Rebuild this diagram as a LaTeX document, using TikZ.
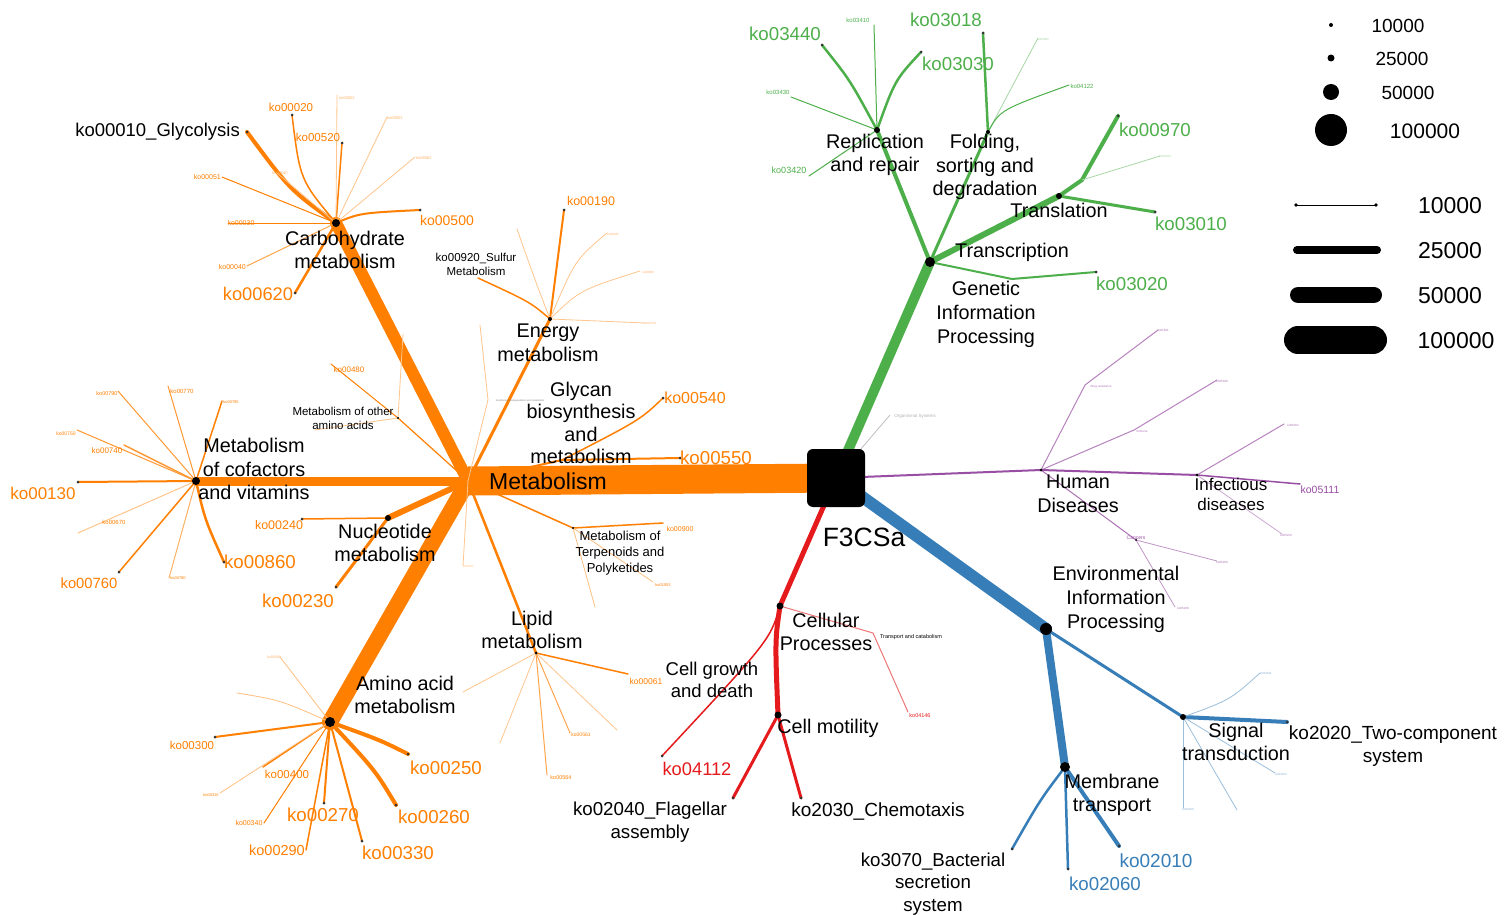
\documentclass[tikz,border=0pt]{standalone}
\usepackage{fontspec}
\setmainfont{Liberation Sans}
\definecolor{cOr}{RGB}{255,127,0}
\definecolor{cGr}{RGB}{77,175,74}
\definecolor{cBl}{RGB}{55,126,184}
\definecolor{cRd}{RGB}{228,26,28}
\definecolor{cPu}{RGB}{152,78,163}
\newcommand{\fs}[1]{\fontsize{#1}{#1}\selectfont}
\tikzset{
  edge/.style={line cap=round,line join=round},
  hubl/.style={font=\fontsize{19.8}{23.5}\selectfont,align=center,inner sep=0pt,text=black},
  blk/.style={align=center,inner sep=0pt,text=black},
  kl/.style={inner sep=0pt},
  hubdot/.style={fill=black},
}
\begin{document}
\begin{tikzpicture}[x=1pt,y=-1pt]
\useasboundingbox[fill=white] (0,0) rectangle (1510,915);
% ---------- coordinates ----------
\coordinate (rootc) at (836,478);
\coordinate (met) at (468,481);
\coordinate (carb) at (336,223);
\coordinate (cof) at (196,481);
\coordinate (nuc) at (388,518);
\coordinate (amino) at (330,722);
\coordinate (energy) at (550,319);
\coordinate (glyc) at (562,460);
\coordinate (oam) at (398,418);
\coordinate (terp) at (573,528);
\coordinate (lipid) at (536,653);
\coordinate (xeno) at (488,400);
\coordinate (xenoend) at (480,325);
\coordinate (mf1) at (463,566);
\coordinate (mf1e) at (473,566);
% carbohydrate leaves
\coordinate (gly) at (247,132);
\coordinate (k20) at (292,115);
\coordinate (k520) at (342,143);
\coordinate (cf1) at (337,95);
\coordinate (cf2) at (387,117);
\coordinate (cf3) at (415,157);
\coordinate (k51) at (222,177);
\coordinate (cf4) at (277,173);
\coordinate (k30) at (228,223);
\coordinate (k40) at (247,266);
\coordinate (k620) at (295,293);
\coordinate (k500) at (420,210);
% cofactor leaves
\coordinate (k130) at (78,482);
\coordinate (k790) at (118,391);
\coordinate (k770) at (168,386);
\coordinate (k785) at (222,401);
\coordinate (k750) at (77,430);
\coordinate (k740) at (124,445);
\coordinate (k670) at (78,533);
\coordinate (k760) at (119,572);
\coordinate (k780) at (169,578);
\coordinate (k860) at (224,562);
% nucleotide
\coordinate (k240) at (302,519);
\coordinate (k230) at (336,587);
% other amino
\coordinate (k480) at (331,364);
\coordinate (oup) at (403,334);
\coordinate (oleft) at (315,430);
% amino
\coordinate (af1) at (280,657);
\coordinate (af2) at (237,693);
\coordinate (k300) at (215,737);
\coordinate (k400) at (263,767);
\coordinate (k310) at (220,793);
\coordinate (k340) at (264,823);
\coordinate (k290) at (306,850);
\coordinate (k270) at (324,803);
\coordinate (k330) at (362,841);
\coordinate (k260) at (396,805);
\coordinate (k250) at (408,754);
% energy
\coordinate (k190) at (564,210);
\coordinate (sulf) at (478,278);
\coordinate (ef1) at (517,229);
\coordinate (ef2) at (607,233);
\coordinate (ef3) at (640,271);
\coordinate (ef4) at (645,323);
% glycan
\coordinate (k540) at (663,398);
\coordinate (k550) at (680,458);
% terpenoids
\coordinate (k900) at (663,523);
\coordinate (k1053) at (653,582);
\coordinate (tf) at (595,607);
% lipid
\coordinate (k061) at (628,674);
\coordinate (lf1) at (617,730);
\coordinate (k561) at (570,733);
\coordinate (k564) at (547,775);
\coordinate (lf2) at (500,743);
\coordinate (lf3) at (463,692);
% green
\coordinate (gip) at (930,262);
\coordinate (rep) at (877,130);
\coordinate (k3440) at (822,45);
\coordinate (k3410) at (874,25);
\coordinate (k3030) at (921,52);
\coordinate (k3430) at (791,97);
\coordinate (k3420) at (809,176);
\coordinate (fold) at (988,132);
\coordinate (k3018) at (983,33);
\coordinate (ff) at (1038,38);
\coordinate (k4122) at (1069,85);
\coordinate (trans) at (1059,196);
\coordinate (tbend) at (1082,180);
\coordinate (k970) at (1118,116);
\coordinate (tf2) at (1160,156);
\coordinate (k3010) at (1155,212);
\coordinate (trsc) at (1012,279);
\coordinate (k3020) at (1096,272);
\coordinate (orgs) at (890,415);
% purple
\coordinate (hd) at (1041,470);
\coordinate (hdm1) at (1085,385);
\coordinate (hde1) at (1158,330);
\coordinate (hdm2) at (1134,430);
\coordinate (hde2) at (1217,380);
\coordinate (inf) at (1197,475);
\coordinate (k5111) at (1300,484);
\coordinate (ie1) at (1284,424);
\coordinate (ie2) at (1282,534);
\coordinate (canc) at (1136,540);
\coordinate (ce1) at (1217,561);
\coordinate (ce2) at (1175,607);
% blue
\coordinate (eip) at (1046,629);
\coordinate (mem) at (1065,767);
\coordinate (k3070) at (1012,849);
\coordinate (k2060) at (1068,869);
\coordinate (k2010) at (1119,846);
\coordinate (sig) at (1183,717);
\coordinate (k2020) at (1287,722);
\coordinate (sf1) at (1260,673);
\coordinate (sf2) at (1275,773);
\coordinate (sf3) at (1237,810);
\coordinate (sf4) at (1183,808);
% red
\coordinate (cp) at (780,606);
\coordinate (cm) at (778,715);
\coordinate (k2040) at (733,798);
\coordinate (k2030) at (801,798);
\coordinate (k4112) at (662,756);
\coordinate (tc) at (873,633);
\coordinate (k4146) at (908,712);

% ---------- orange edges ----------
\begin{scope}[edge,cOr]
\draw[line width=29pt,line cap=butt] (met) -- (rootc);
\draw[line width=12pt] (met) -- (carb);
\draw[line width=9pt] (met) -- (cof);
\draw[line width=6pt] (met) -- (nuc);
\draw[line width=16pt] (met) -- (amino);
\draw[line width=3pt] (met) -- (energy);
\draw[line width=2pt] (met) -- (glyc);
\draw[line width=1.2pt] (met) -- (oam);
\draw[line width=1.5pt] (met) -- (terp);
\draw[line width=2.5pt] (met) -- (lipid);
\draw[line width=0.8pt,cOr!45] (met) -- (xeno) -- (xenoend);
\draw[line width=0.8pt,cOr!45] (met) -- (mf1) -- (mf1e);
% carbohydrate
\draw[line width=4pt] (carb) .. controls (290,190) .. (gly);
\draw[line width=1.5pt] (carb) .. controls (300,180) .. (k20);
\draw[line width=1.5pt] (carb) -- (k520);
\draw[line width=0.8pt,cOr!45] (carb) -- (cf1);
\draw[line width=0.8pt,cOr!45] (carb) -- (cf2);
\draw[line width=0.8pt,cOr!45] (carb) -- (cf3);
\draw[line width=1pt] (carb) -- (k51);
\draw[line width=0.8pt,cOr!45] (carb) -- (cf4);
\draw[line width=1pt] (carb) -- (k30);
\draw[line width=1pt,cOr!70] (carb) -- (k40);
\draw[line width=2.5pt] (carb) -- (k620);
\draw[line width=2pt] (carb) .. controls (360,213) .. (k500);
% cofactors
\draw[line width=2pt] (cof) -- (k130);
\draw[line width=1pt,cOr!80] (cof) -- (k790);
\draw[line width=1pt,cOr!80] (cof) -- (k770);
\draw[line width=1.5pt] (cof) -- (k785);
\draw[line width=1pt,cOr!80] (cof) -- (k750);
\draw[line width=1.5pt,cOr!80] (cof) -- (k740);
\draw[line width=1pt,cOr!45] (cof) -- (k670);
\draw[line width=1.5pt] (cof) -- (k760);
\draw[line width=1pt,cOr!60] (cof) -- (k780);
\draw[line width=2.5pt] (cof) .. controls (205,520) .. (k860);
% nucleotide
\draw[line width=1.5pt] (nuc) -- (k240);
\draw[line width=3pt] (nuc) -- (k230);
% other amino acids
\draw[line width=1pt] (oam) -- (k480);
\draw[line width=0.8pt,cOr!45] (oam) -- (oup);
\draw[line width=0.8pt,cOr!45] (oam) -- (oleft);
% amino acid
\draw[line width=0.8pt,cOr!50] (amino) -- (af1);
\draw[line width=0.8pt,cOr!50] (amino) .. controls (280,700) .. (af2);
\draw[line width=2pt] (amino) -- (k300);
\draw[line width=1.5pt] (amino) -- (k400);
\draw[line width=0.8pt,cOr!50] (amino) -- (k310);
\draw[line width=1pt] (amino) -- (k340);
\draw[line width=1.5pt] (amino) -- (k290);
\draw[line width=2pt] (amino) -- (k270);
\draw[line width=2pt] (amino) -- (k330);
\draw[line width=4pt] (amino) .. controls (375,770) .. (k260);
\draw[line width=4pt] (amino) .. controls (380,740) .. (k250);
% energy
\draw[line width=2pt] (energy) -- (k190);
\draw[line width=1.5pt] (energy) .. controls (530,302) .. (sulf);
\draw[line width=0.8pt,cOr!45] (energy) .. controls (535,280) .. (ef1);
\draw[line width=0.8pt,cOr!45] (energy) .. controls (575,260) .. (ef2);
\draw[line width=0.8pt,cOr!45] (energy) .. controls (580,290) .. (ef3);
\draw[line width=0.8pt,cOr!45] (energy) -- (ef4);
% glycan
\draw[line width=1.5pt] (glyc) .. controls (640,420) .. (k540);
\draw[line width=2pt] (glyc) -- (k550);
% terpenoids
\draw[line width=1.5pt] (terp) -- (k900);
\draw[line width=0.8pt,cOr!50] (terp) -- (k1053);
\draw[line width=0.8pt,cOr!50] (terp) -- (tf);
% lipid
\draw[line width=1.5pt] (lipid) -- (k061);
\draw[line width=0.8pt,cOr!45] (lipid) -- (lf1);
\draw[line width=1pt,cOr!70] (lipid) -- (k561);
\draw[line width=1pt,cOr!70] (lipid) -- (k564);
\draw[line width=0.8pt,cOr!45] (lipid) -- (lf2);
\draw[line width=0.8pt,cOr!45] (lipid) -- (lf3);
\end{scope}

% ---------- green edges ----------
\begin{scope}[edge,cGr]
\draw[line width=10pt] (rootc) -- (gip);
\draw[line width=4pt] (gip) -- (rep);
\draw[line width=2.5pt] (rep) .. controls (850,80) .. (k3440);
\draw[line width=1pt] (rep) -- (k3410);
\draw[line width=2.5pt] (rep) .. controls (895,80) .. (k3030);
\draw[line width=1pt] (rep) -- (k3430);
\draw[line width=1pt] (rep) -- (k3420);
\draw[line width=3pt] (gip) -- (fold);
\draw[line width=2.5pt] (fold) -- (k3018);
\draw[line width=0.8pt,cGr!50] (fold) .. controls (1005,100) .. (ff);
\draw[line width=1pt] (fold) .. controls (1000,110) .. (k4122);
\draw[line width=6pt] (gip) -- (trans);
\draw[line width=4pt] (trans) -- (tbend) -- (k970);
\draw[line width=0.8pt,cGr!50] (tbend) -- (tf2);
\draw[line width=3pt] (trans) -- (k3010);
\draw[line width=2pt] (gip) -- (trsc) -- (k3020);
\draw[line width=0.8pt,black!25] (rootc) -- (orgs);
\end{scope}

% ---------- purple edges ----------
\begin{scope}[edge,cPu]
\draw[line width=2pt] (rootc) -- (hd);
\draw[line width=1pt,cPu!70] (hd) -- (hdm1) -- (hde1);
\draw[line width=1pt,cPu!70] (hd) -- (hdm2) -- (hde2);
\draw[line width=2pt] (hd) -- (inf);
\draw[line width=1.5pt] (inf) -- (k5111);
\draw[line width=1pt,cPu!70] (inf) -- (ie1);
\draw[line width=0.8pt,cPu!50] (inf) -- (ie2);
\draw[line width=1pt,cPu!80] (hd) -- (canc);
\draw[line width=0.8pt,cPu!60] (canc) -- (ce1);
\draw[line width=0.8pt,cPu!60] (canc) -- (ce2);
\end{scope}

% ---------- blue edges ----------
\begin{scope}[edge,cBl]
\draw[line width=12pt] (rootc) -- (eip);
\draw[line width=8pt] (eip) -- (mem);
\draw[line width=2.5pt] (mem) .. controls (1040,800) .. (k3070);
\draw[line width=2.5pt] (mem) -- (k2060);
\draw[line width=4pt] (mem) -- (k2010);
\draw[line width=3pt] (eip) -- (sig);
\draw[line width=4pt] (sig) -- (k2020);
\draw[line width=0.8pt,cBl!50] (sig) .. controls (1230,700) .. (sf1);
\draw[line width=0.8pt,cBl!50] (sig) -- (sf2);
\draw[line width=0.8pt,cBl!50] (sig) -- (sf3);
\draw[line width=0.8pt,cBl!50] (sig) -- (sf4);
\end{scope}

% ---------- red edges ----------
\begin{scope}[edge,cRd]
\draw[line width=5pt] (rootc) -- (cp);
\draw[line width=5pt] (cp) .. controls (775,640) .. (cm);
\draw[line width=3pt] (cm) -- (k2040);
\draw[line width=3pt] (cm) -- (k2030);
\draw[line width=1.5pt] (cp) .. controls (770,640) .. (k4112);
\draw[line width=1pt,cRd!60] (cp) -- (tc) -- (k4146);
\end{scope}

% ---------- hub dots ----------
\foreach \p/\r in {carb/4,cof/4,nuc/3,amino/5,energy/2,oam/1.2,terp/1.2,lipid/1.5,
  gip/5,rep/3,fold/2,trans/3,hd/1.5,inf/1.5,canc/1,eip/6,mem/5,sig/3,cp/3.5,cm/3.5}
  \fill (\p) circle (\r pt);
\foreach \p in {gly,k20,k520,k500,k620,k130,k760,k860,k240,k230,k300,k250,k260,k270,k330,
  k190,k540,k550,k3440,k3030,k3018,k970,k3010,k3020,k3070,k2060,k2010,k2020,k2040,k2030,k4112}
  \fill[black!80] (\p) circle (1.5pt);

% ---------- root ----------
\node[fill=black,rounded corners=6pt,minimum size=58pt,inner sep=0pt] (root) at (rootc) {};
\node[kl,font=\fs{26.5}] (rootl) at (864,537) {F3CSa};
\node[kl,font=\fs{23}] (metl) at (548,481) {Metabolism};

% ---------- hub labels ----------
\node[hubl] (carbl) at (345,250) {Carbohydrate\\metabolism};
\node[hubl] (cofl) at (254,469) {Metabolism\\of cofactors\\and vitamins};
\node[hubl] (nucl) at (385,543) {Nucleotide\\metabolism};
\node[hubl] (aminol) at (405,695) {Amino acid\\metabolism};
\node[hubl] (energyl) at (548,343) {Energy\\metabolism};
\node[hubl,font=\fontsize{19.8}{22.5}\selectfont] (glycl) at (581,423) {Glycan\\biosynthesis\\and\\metabolism};
\node[blk,font=\fontsize{11.5}{14}\selectfont] (oaml) at (343,418) {Metabolism of other\\amino acids};
\node[blk,font=\fontsize{13}{16}\selectfont] (terpl) at (620,553) {Metabolism of\\Terpenoids and\\Polyketides};
\node[hubl] (lipidl) at (532,630) {Lipid\\metabolism};
\node[hubl,font=\fontsize{19.8}{24}\selectfont] (gipl) at (986,314) {Genetic\\Information\\Processing};
\node[hubl] (repl) at (875,155) {Replication\\and repair};
\node[hubl] (foldl) at (985,167) {Folding,\\sorting and\\degradation};
\node[hubl] (transl) at (1059,210) {Translation};
\node[hubl] (trscl) at (1012,252) {Transcription};
\node[hubl] (hdl) at (1078,494) {Human\\Diseases};
\node[hubl,font=\fontsize{17}{20}\selectfont] (infl) at (1231,494) {Infectious\\diseases};
\node[hubl,font=\fontsize{19.8}{24}\selectfont] (eipl) at (1116,599) {Environmental\\Information\\Processing};
\node[hubl] (meml) at (1112,795) {Membrane\\transport};
\node[hubl] (sigl) at (1236,742) {Signal\\transduction};
\node[hubl] (cpl) at (826,632) {Cellular\\Processes};
\node[hubl] (cml) at (828,728) {Cell motility};
\node[hubl,font=\fontsize{18.5}{22}\selectfont] (cgl) at (712,680) {Cell growth\\and death};

% ---------- leaf labels: orange ----------
\begin{scope}[every node/.style={kl,text=cOr}]
\node[text=black,font=\fs{18.5},anchor=east] (glyl) at (240,132) {ko00010\_Glycolysis};
\node[font=\fs{11.5}] (k20l) at (291,107) {ko00020};
\node[font=\fs{11.5}] (k520l) at (318,137) {ko00520};
\node[font=\fs{4},text=cOr!60] (cf1l) at (347,98) {ko00052};
\node[font=\fs{4},text=cOr!60] (cf2l) at (395,118) {ko00053};
\node[font=\fs{4},text=cOr!60] (cf3l) at (424,158) {ko00562};
\node[font=\fs{7},anchor=east] (k51l) at (221,177) {ko00051};
\node[font=\fs{4},text=cOr!60] (cf4l) at (280,173) {ko00640};
\node[font=\fs{7}] (k30l) at (241,223) {ko00030};
\node[font=\fs{7},anchor=east] (k40l) at (246,267) {ko00040};
\node[font=\fs{18.3}] (k620l) at (258,294) {ko00620};
\node[font=\fs{14}] (k500l) at (447,220) {ko00500};
\node[font=\fs{17}] (k130l) at (43,493) {ko00130};
\node[font=\fs{5.5}] (k790l) at (107,394) {ko00790};
\node[font=\fs{6}] (k770l) at (182,391) {ko00770};
\node[font=\fs{4}] (k785l) at (231,402) {ko00785};
\node[font=\fs{5}] (k750l) at (66,434) {ko00750};
\node[font=\fs{8}] (k740l) at (107,451) {ko00740};
\node[font=\fs{6}] (k670l) at (114,522) {ko00670};
\node[font=\fs{14.8}] (k760l) at (89,583) {ko00760};
\node[font=\fs{4}] (k780l) at (178,578) {ko00780};
\node[font=\fs{18.7}] (k860l) at (260,562) {ko00860};
\node[font=\fs{12.5}] (k240l) at (279,525) {ko00240};
\node[font=\fs{18.7}] (k230l) at (298,601) {ko00230};
\node[font=\fs{8}] (k480l) at (349,370) {ko00480};
\node[font=\fs{3.5},text=cOr!60] (af1l) at (274,657) {ko00380};
\node[font=\fs{11.5}] (k300l) at (192,745) {ko00300};
\node[font=\fs{11.5}] (k400l) at (287,774) {ko00400};
\node[font=\fs{4}] (k310l) at (211,795) {ko00310};
\node[font=\fs{7}] (k340l) at (249,823) {ko00340};
\node[font=\fs{14.5}] (k290l) at (277,850) {ko00290};
\node[font=\fs{18.7}] (k270l) at (323,815) {ko00270};
\node[font=\fs{18.7}] (k330l) at (398,853) {ko00330};
\node[font=\fs{18.7}] (k260l) at (434,817) {ko00260};
\node[font=\fs{18.7}] (k250l) at (446,768) {ko00250};
\node[font=\fs{12.5}] (k190l) at (591,201) {ko00190};
\node[text=black,align=center,font=\fontsize{11.5}{14}\selectfont] (sulfl) at (476,264) {ko00920\_Sulfur\\Metabolism};
\node[font=\fs{3},text=cOr!60] (ef2l) at (613,234) {ko00195};
\node[font=\fs{3},text=cOr!60] (ef3l) at (648,272) {ko00680};
\node[font=\fs{3},text=cOr!60] (ef4l) at (650,323) {ko00710};
\node[font=\fs{2.5},text=black!50] (xenol) at (520,401) {Xenobiotics biodegradation and metabolism};
\node[font=\fs{16}] (k540l) at (695,398) {ko00540};
\node[font=\fs{18.7}] (k550l) at (716,458) {ko00550};
\node[font=\fs{7}] (k900l) at (680,529) {ko00900};
\node[font=\fs{4}] (k1053l) at (663,585) {ko01053};
\node[font=\fs{8.5}] (k061l) at (646,681) {ko00061};
\node[font=\fs{5}] (k561l) at (581,735) {ko00561};
\node[font=\fs{5.5}] (k564l) at (561,778) {ko00564};
\end{scope}

% ---------- leaf labels: green ----------
\begin{scope}[every node/.style={kl,text=cGr}]
\node[font=\fs{18.7}] (k3440l) at (785,34) {ko03440};
\node[font=\fs{6}] (k3410l) at (858,20) {ko03410};
\node[font=\fs{18.7}] (k3030l) at (958,64) {ko03030};
\node[font=\fs{6}] (k3430l) at (778,92) {ko03430};
\node[font=\fs{9}] (k3420l) at (789,170) {ko03420};
\node[font=\fs{18.7}] (k3018l) at (946,20) {ko03018};
\node[font=\fs{3},text=cGr!50] (ffl) at (1043,39) {ko03060};
\node[font=\fs{6}] (k4122l) at (1082,86) {ko04122};
\node[font=\fs{18.7}] (k970l) at (1155,130) {ko00970};
\node[font=\fs{3},text=cGr!50] (tf2l) at (1165,156) {ko03013};
\node[font=\fs{18.7}] (k3010l) at (1191,224) {ko03010};
\node[font=\fs{18.7}] (k3020l) at (1132,284) {ko03020};
\node[font=\fs{4.5},text=black!30] (orgsl) at (915,416) {Organismal Systems};
\end{scope}

% ---------- leaf labels: purple ----------
\begin{scope}[every node/.style={kl,text=cPu!80,font=\fs{3}}]
\node (hdm1l) at (1101,387) {Drug resistance};
\node (hde1l) at (1163,330) {ko01501};
\node (hdm2l) at (1142,431) {Immune};
\node (hde2l) at (1222,381) {ko05340};
\node (ie1l) at (1293,425) {ko05152};
\node (ie2l) at (1286,535) {ko05150};
\node[font=\fs{10.5},text=cPu] (k5111l) at (1320,490) {ko05111};
\node[font=\fs{5},text=cPu] (cancl) at (1136,538) {Cancers};
\node (ce1l) at (1222,562) {ko05200};
\node (ce2l) at (1183,608) {ko05230};
\end{scope}

% ---------- leaf labels: blue ----------
\begin{scope}[every node/.style={kl,text=cBl}]
\node[text=black,align=center,font=\fontsize{18.7}{22.5}\selectfont] (k3070l) at (933,884) {ko3070\_Bacterial\\secretion\\system};
\node[font=\fs{18.7}] (k2060l) at (1105,884) {ko02060};
\node[font=\fs{19}] (k2010l) at (1156,861) {ko02010};
\node[text=black,align=center,font=\fontsize{19}{23}\selectfont] (k2020l) at (1393,746) {ko2020\_Two-component\\system};
\node[font=\fs{3},text=cBl!60] (sf1l) at (1266,673) {ko04011};
\node[font=\fs{3},text=cBl!60] (sf2l) at (1281,774) {ko04013};
\node[font=\fs{3},text=cBl!60] (sf4l) at (1188,809) {ko04016};
\end{scope}

% ---------- leaf labels: red ----------
\node[blk,font=\fontsize{18.7}{22.5}\selectfont] (k2040l) at (650,822) {ko02040\_Flagellar\\assembly};
\node[kl,font=\fs{19}] (k2030l) at (878,811) {ko2030\_Chemotaxis};
\node[kl,font=\fs{18.3},text=cRd] (k4112l) at (697,769) {ko04112};
\node[kl,font=\fs{5.5}] (tcl) at (911,637) {Transport and catabolism};
\node[kl,font=\fs{5.5},text=cRd] (k4146l) at (920,716) {ko04146};

% ---------- legend ----------
\fill (1331,25) circle (2pt);
\fill (1331,58) circle (3.5pt);
\fill (1331,92) circle (8pt);
\fill (1331,130) circle (16pt);
\node[kl,font=\fs{19}] (lg1) at (1398,26) {10000};
\node[kl,font=\fs{19}] (lg2) at (1402,59) {25000};
\node[kl,font=\fs{19}] (lg3) at (1408,93) {50000};
\node[kl,font=\fs{21}] (lg4) at (1425,131) {100000};
\draw[line width=1pt] (1296,205) -- (1376,205);
\fill (1296,205) circle (1.8pt) (1376,205) circle (1.8pt);
\draw[line width=8pt,line cap=round] (1297,250) -- (1377,250);
\draw[line width=16pt,line cap=round] (1298,295) -- (1374,295);
\draw[line width=28pt,line cap=round] (1298,340) -- (1373,340);
\node[kl,font=\fs{23}] (lw1) at (1450,206) {10000};
\node[kl,font=\fs{23}] (lw2) at (1450,251) {25000};
\node[kl,font=\fs{23}] (lw3) at (1450,296) {50000};
\node[kl,font=\fs{23}] (lw4) at (1456,341) {100000};
\end{tikzpicture}
\end{document}
